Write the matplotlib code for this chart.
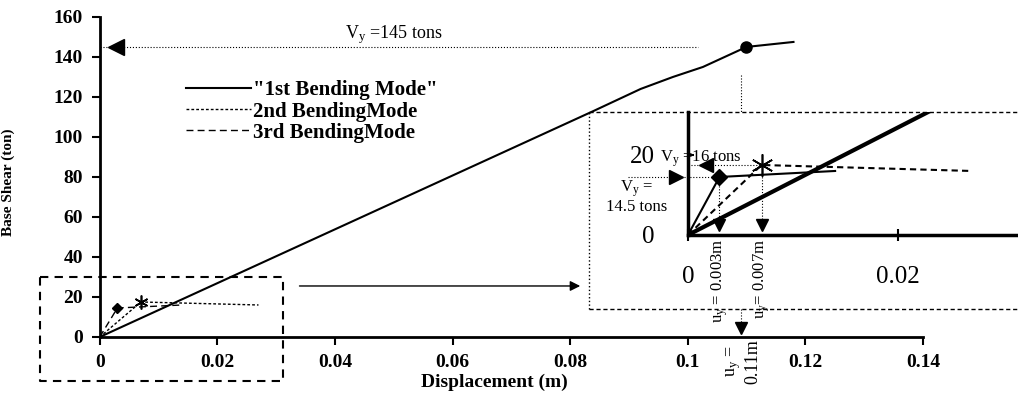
import numpy as np
import matplotlib
matplotlib.use('Agg')
import matplotlib.pyplot as plt
from matplotlib.lines import Line2D

plt.rcParams['font.family'] = ['Liberation Serif', 'DejaVu Serif']
plt.rcParams['mathtext.fontset'] = 'custom'
plt.rcParams['mathtext.rm'] = 'Liberation Serif'
plt.rcParams['mathtext.it'] = 'Liberation Serif:italic'

# pushover curves
mode1_x = [0, 0.084, 0.092, 0.0975, 0.1026, 0.11, 0.118]
mode1_y = [0, 113, 124, 130, 135, 145, 147.5]
mode2_x = [0, 0.007, 0.027]
mode2_y = [0, 17.5, 16]
mode3_x = [0, 0.003, 0.014]
mode3_y = [0, 14.5, 16]

# yield points
yield1 = (0.11, 145)
yield2 = (0.007, 17.5)
yield3 = (0.003, 14.5)

x_ticks = [0, 0.02, 0.04, 0.06, 0.08, 0.1, 0.12, 0.14]
x_labels = ['0', '0.02', '0.04', '0.06', '0.08', '0.1', '0.12', '0.14']
y_ticks = [0, 20, 40, 60, 80, 100, 120, 140, 160]
legend_labels = ['"1st Bending Mode"', '2nd BendingMode', '3rd BendingMode']

fig = plt.figure(figsize=(10.18, 3.94), dpi=100)
ax = fig.add_axes([0.098, 0.1447, 0.8085, 0.8123])

ax.plot(mode1_x, mode1_y, color='k', lw=1.5)
ax.plot(mode2_x, mode2_y, color='k', lw=1, linestyle=(0, (2, 1.5)))
ax.plot(mode3_x, mode3_y, color='k', lw=1, linestyle=(0, (5, 3)))
ax.plot(*yield1, 'o', color='k', ms=8)
ax.plot(*yield3, 'D', color='k', ms=5)
ax.plot(*yield2, marker=(6, 2, 0), color='k', ms=10, mew=1.2)

ax.set_xlim(0, 0.14)
ax.set_ylim(0, 160)
ax.set_xticks(x_ticks)
ax.set_xticklabels(x_labels)
ax.set_yticks(y_ticks)
for s in ['top', 'right']:
    ax.spines[s].set_visible(False)
for s in ['left', 'bottom']:
    ax.spines[s].set_linewidth(2)
ax.tick_params(width=1.5, length=6, pad=6, labelsize=14)
for lab in ax.get_xticklabels() + ax.get_yticklabels():
    lab.set_fontweight('bold')
ax.set_xlabel('Displacement (m)', fontsize=14, fontweight='bold')
ax.xaxis.set_label_coords(0.48, -0.115)
ax.set_ylabel('Base Shear (ton)', fontsize=11, fontweight='bold')
ax.yaxis.set_label_coords(-0.103, 0.484)

handles = [Line2D([], [], color='k', lw=1.5),
           Line2D([], [], color='k', lw=1, linestyle=(0, (2, 1.5))),
           Line2D([], [], color='k', lw=1, linestyle=(0, (5, 3)))]
ax.legend(handles, legend_labels, loc='upper left', bbox_to_anchor=(0.082, 0.86),
          frameon=False, handlelength=3.1, handletextpad=0.1, labelspacing=0.05,
          prop={'family': 'Liberation Serif', 'weight': 'bold', 'size': 15})

# yield of the 1st mode
ax.plot([0, 0.1017], [yield1[1], yield1[1]], color='k', lw=0.8, linestyle=':')
ax.plot(0.0028, yield1[1], '<', color='k', ms=11)
ax.text(0.05, 151, r'V$_\mathrm{y}$ =145 tons', fontsize=13, ha='center', va='center')
ax.plot([0.109, 0.109], [131, 112.5], color='k', lw=0.8, linestyle=':')
ax.plot([0.109, 0.109], [14, 4], color='k', lw=0.8, linestyle=':', clip_on=False)
ax.plot(0.109, 4.5, 'v', color='k', ms=9, clip_on=False)
ax.text(0.1093, -1, 'u$_\\mathrm{y}$ =\n0.11m', rotation=90, fontsize=13,
        ha='center', va='top', ma='center', linespacing=1.1)

# dashed zoom box and arrow
ax.plot([-0.0102, 0.0311, 0.0311, -0.0102, -0.0102], [30, 30, -22, -22, 30],
        color='k', lw=1.5, linestyle=(0, (4, 3)), clip_on=False)
ax.annotate('', xy=(0.0822, 25.5), xytext=(0.0335, 25.5),
            arrowprops=dict(arrowstyle='-|>', color='k', lw=1, mutation_scale=15))

# frame round the inset
ax.plot([0.0832, 0.0832], [14, 112.5], color='k', lw=1, linestyle=':', clip_on=False)
ax.plot([0.0832, 0.16], [112.5, 112.5], color='k', lw=1, linestyle=(0, (3, 2)), clip_on=False)
ax.plot([0.0832, 0.16], [14, 14], color='k', lw=1, linestyle=(0, (3, 2)), clip_on=False)

# inset
ins = fig.add_axes([0.6758, 0.4036, 0.3242, 0.3122])
ins.patch.set_alpha(0)
ins.plot(mode1_x, mode1_y, color='k', lw=3)
ins.plot(mode3_x, mode3_y, color='k', lw=1.5)
ins.plot(mode2_x, mode2_y, color='k', lw=1.5, linestyle=(0, (3, 2)))
ins.plot(*yield3, 'D', color='k', ms=8)
ins.plot(*yield2, marker=(6, 2, 0), color='k', ms=16, mew=1.2)
ins.set_xlim(0, 0.0314)
ins.set_ylim(0, 30.75)
ins.set_xticks([0, 0.02])
ins.set_xticklabels(['0', '0.02'])
ins.set_yticks([0, 20])
ins.set_yticklabels(['0', '20'])
for s in ['top', 'right']:
    ins.spines[s].set_visible(False)
for s in ['left', 'bottom']:
    ins.spines[s].set_linewidth(2.5)
ins.tick_params(axis='x', direction='inout', length=8, width=1.5, pad=18, labelsize=18)
ins.tick_params(axis='y', direction='in', length=4, width=1.5, pad=24, labelsize=18)

# yield annotations in the inset
ins.plot([0, yield2[0]], [yield2[1], yield2[1]], color='k', lw=0.8, linestyle=':')
ins.plot(0.0017, yield2[1], '<', color='k', ms=10)
ins.text(-0.0027, 19.0, r'V$_\mathrm{y}$ =16 tons', fontsize=12, ha='left', va='center')
ins.plot([-0.0057, yield3[0]], [yield3[1], yield3[1]], color='k', lw=0.8, linestyle=':', clip_on=False)
ins.plot(-0.0011, yield3[1], '>', color='k', ms=10, clip_on=False)
ins.text(-0.0049, 9.5, 'V$_\\mathrm{y}$ =\n14.5 tons', fontsize=12, ha='center', va='center',
         linespacing=1.0)
for xv, yv, lab in [(yield3[0], yield3[1], 'u$_\\mathrm{y}$ = 0.003m'),
                    (yield2[0], yield2[1], 'u$_\\mathrm{y}$= 0.007m')]:
    ins.plot([xv, xv], [yv, 2.5], color='k', lw=0.8, linestyle=':')
    ins.plot(xv, 2.5, 'v', color='k', ms=9)
    ins.text(xv, -0.8, lab, rotation=90, fontsize=12, ha='center', va='top')

plt.savefig('out.png', dpi=100)
